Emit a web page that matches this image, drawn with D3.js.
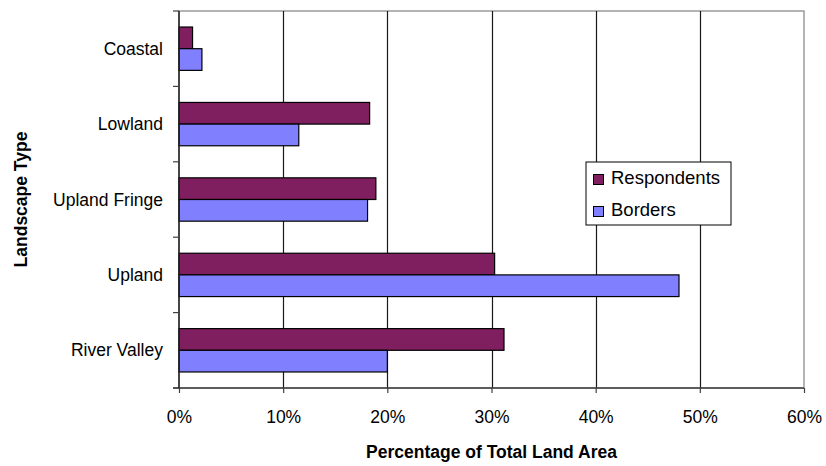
<!DOCTYPE html>
<html>
<head>
<meta charset="utf-8">
<script src="https://cdn.jsdelivr.net/npm/d3@7"></script>
<style>
  html, body { margin: 0; padding: 0; background: #fff; }
  svg { display: block; font-family: "Liberation Sans", Arial, sans-serif; }
</style>
</head>
<body>
<svg id="chart" width="826" height="466"></svg>
<script>
// Landscape categories, top to bottom
const categories = ["Coastal", "Lowland", "Upland Fringe", "Upland", "River Valley"];
const seriesNames = ["Respondents", "Borders"];
// Percent of total land area per landscape type
const respondents = [1.3, 18.3, 18.9, 30.3, 31.2];
const borders = [2.2, 11.5, 18.1, 48.0, 20.0];
const xTicks = [0, 10, 20, 30, 40, 50, 60];
const colors = { Respondents: "#7f1f5f", Borders: "#8080ff" };

const svg = d3.select("#chart");
const plot = { left: 179, right: 804, top: 11, bottom: 388 };

const x = d3.scaleLinear().domain([0, 60]).range([plot.left, plot.right]);
const y = d3.scaleBand().domain(categories).range([plot.top, plot.bottom]).padding(0);
const ySub = d3.scaleBand().domain(seriesNames).range([0, y.bandwidth()])
  .paddingInner(0).paddingOuter(0.74);

const rows = categories.map((c, i) => ({
  category: c,
  values: [
    { series: "Respondents", value: respondents[i] },
    { series: "Borders", value: borders[i] }
  ]
}));

// Plot frame (top and right edges)
svg.append("rect")
  .attr("x", plot.left).attr("y", plot.top)
  .attr("width", plot.right - plot.left).attr("height", plot.bottom - plot.top)
  .attr("fill", "none").attr("stroke", "#8c8c8c").attr("stroke-width", 1.3);

// Vertical gridlines
svg.append("g").selectAll("line")
  .data(xTicks.filter(t => t > 0 && t < 60))
  .join("line")
  .attr("x1", d => Math.round(x(d)) + 0.5).attr("x2", d => Math.round(x(d)) + 0.5)
  .attr("y1", plot.top).attr("y2", plot.bottom)
  .attr("stroke", "#1a1a1a").attr("stroke-width", 1.2);

// Bars
const groups = svg.append("g").selectAll("g")
  .data(rows)
  .join("g")
  .attr("transform", d => `translate(0,${y(d.category)})`);

groups.selectAll("rect")
  .data(d => d.values)
  .join("rect")
  .attr("x", x(0))
  .attr("y", d => ySub(d.series))
  .attr("width", d => x(d.value) - x(0))
  .attr("height", ySub.bandwidth())
  .attr("fill", d => colors[d.series])
  .attr("stroke", "#000")
  .attr("stroke-width", 1.2);

// X axis
const xAxis = d3.axisBottom(x)
  .tickValues(xTicks)
  .tickFormat(d => d + "%")
  .tickSizeInner(5).tickSizeOuter(0).tickPadding(18);
const gx = svg.append("g")
  .attr("transform", `translate(0,${plot.bottom})`)
  .call(xAxis);
gx.select(".domain").attr("stroke", "#404040").attr("stroke-width", 1.5)
  .attr("d", `M${plot.left - 6},0H${plot.right}`);
gx.selectAll(".tick line").attr("stroke", "#404040").attr("stroke-width", 1.2);
gx.selectAll(".tick text")
  .attr("fill", "#000")
  .style("font-size", "17.5px")
  .style("font-family", "'Liberation Sans', Arial, sans-serif");

// Y axis: ticks at category boundaries, labels at band centres
const gy = svg.append("g").attr("transform", `translate(${plot.left},0)`);
gy.append("line")
  .attr("x1", 0).attr("x2", 0).attr("y1", plot.top).attr("y2", plot.bottom)
  .attr("stroke", "#202020").attr("stroke-width", 1.5);
const boundaries = categories.map(c => y(c)).concat([plot.bottom]);
gy.selectAll("line.tk")
  .data(boundaries)
  .join("line")
  .attr("class", "tk")
  .attr("x1", -6).attr("x2", 0)
  .attr("y1", d => d).attr("y2", d => d)
  .attr("stroke", "#404040").attr("stroke-width", 1.2);
gy.selectAll("text")
  .data(categories)
  .join("text")
  .attr("x", -16)
  .attr("y", d => y(d) + y.bandwidth() / 2)
  .attr("dy", "0.35em")
  .attr("text-anchor", "end")
  .style("font-size", "17.5px")
  .text(d => d);

// Axis titles
svg.append("text")
  .attr("x", (plot.left + plot.right) / 2)
  .attr("y", 458)
  .attr("text-anchor", "middle")
  .style("font-size", "17.5px")
  .style("font-weight", "bold")
  .text("Percentage of Total Land Area");

svg.append("text")
  .attr("transform", `translate(27,${(plot.top + plot.bottom) / 2}) rotate(-90)`)
  .attr("text-anchor", "middle")
  .style("font-size", "17.5px")
  .style("font-weight", "bold")
  .text("Landscape Type");

// Legend
const legend = svg.append("g").attr("transform", "translate(586,162)");
legend.append("rect")
  .attr("x", 0).attr("y", 0).attr("width", 145).attr("height", 63)
  .attr("fill", "#fff").attr("stroke", "#000").attr("stroke-width", 1);
const items = legend.selectAll("g.item")
  .data(seriesNames)
  .join("g")
  .attr("class", "item")
  .attr("transform", (d, i) => `translate(0,${i * 32})`);
items.append("rect")
  .attr("x", 7.5).attr("y", 12.5).attr("width", 10).attr("height", 10)
  .attr("fill", d => colors[d]).attr("stroke", "#000").attr("stroke-width", 1);
items.append("text")
  .attr("x", 25).attr("y", 22)
  .style("font-size", "18.5px")
  .text(d => d);
</script>
</body>
</html>
